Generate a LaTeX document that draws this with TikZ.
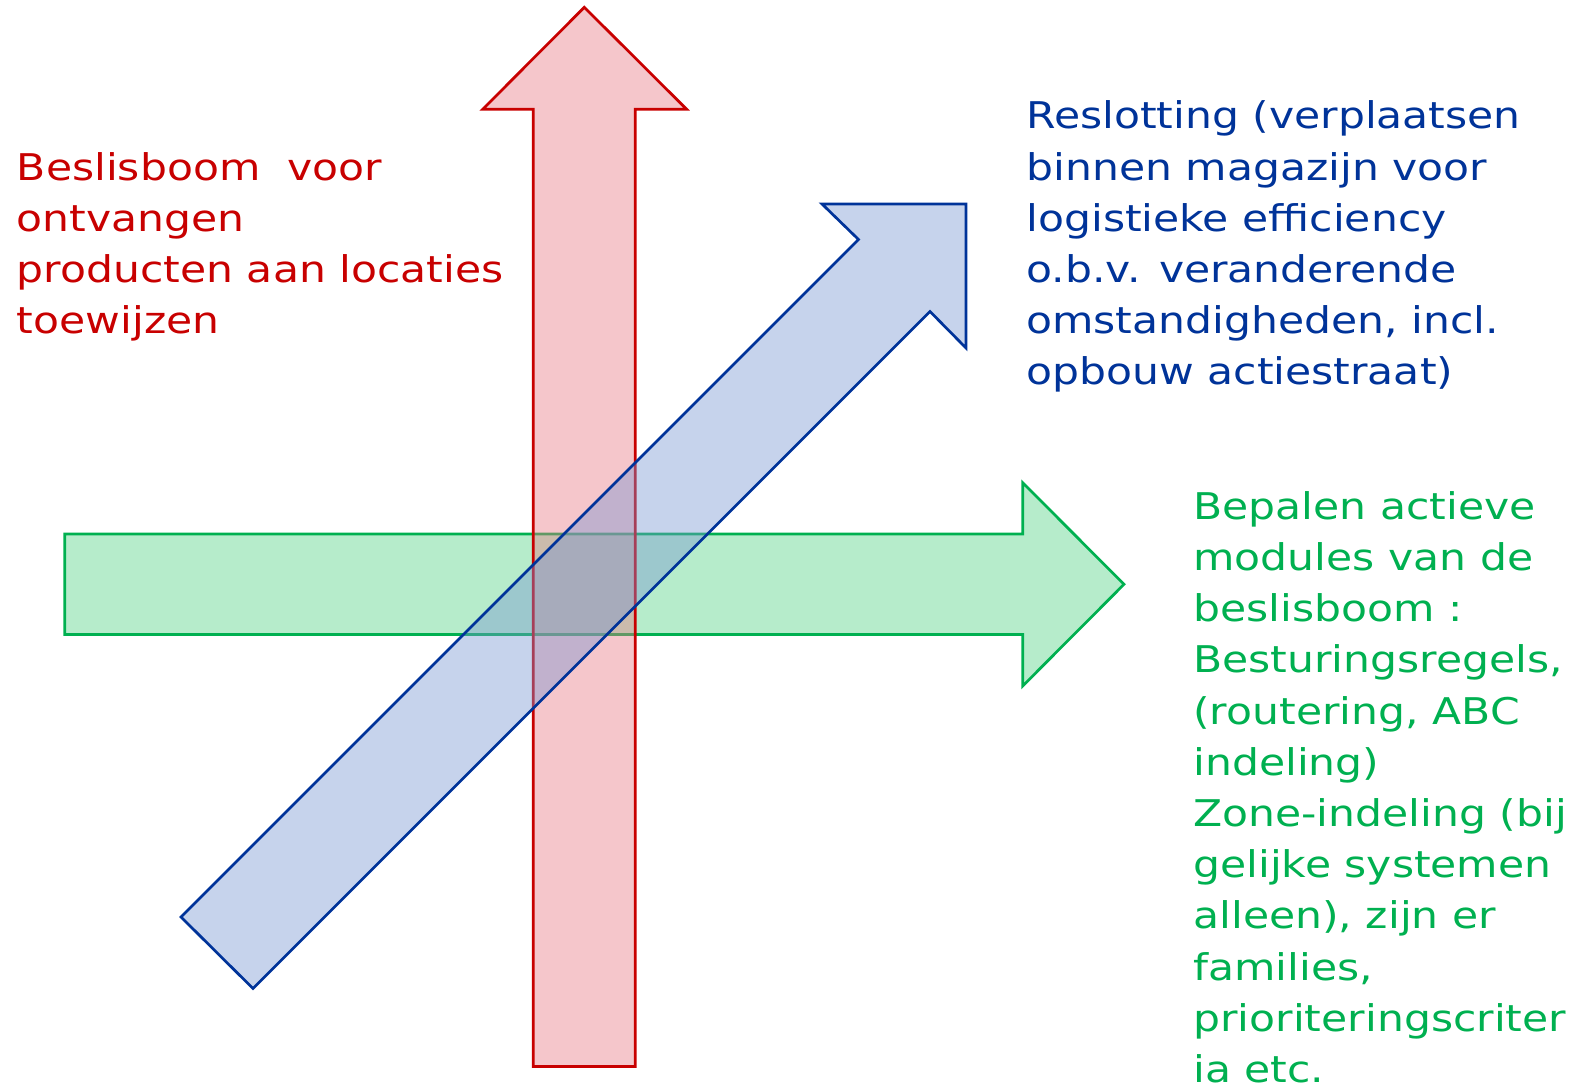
\documentclass[tikz,border=0pt]{standalone}
\usepackage{fontspec}
\setmainfont{DejaVu Sans}[FakeStretch=1.155]
\definecolor{redline}{RGB}{200,0,0}
\definecolor{blueline}{RGB}{0,51,153}
\definecolor{greenline}{RGB}{0,176,80}
\definecolor{redfill}{RGB}{232,120,130}
\definecolor{bluefill}{RGB}{120,150,210}
\definecolor{greenfill}{RGB}{80,210,130}
\begin{document}
\begin{tikzpicture}[x=0.5pt,y=-0.5pt,
  arrowshape/.style={line width=1.35pt, line join=miter, fill opacity=0.42},
  label/.style={anchor=north west, inner sep=0pt, align=left,
    font=\fontsize{18.4}{25.6}\selectfont}]
\useasboundingbox (0,0) rectangle (1585,1085);
% green arrow
\filldraw[arrowshape, draw=greenline, fill=greenfill]
  (64.7,534) -- (1022.7,534) -- (1022.7,482.7) -- (1124,584.3)
  -- (1022.7,686) -- (1022.7,634.5) -- (64.7,634.5) -- cycle;
% red arrow
\filldraw[arrowshape, draw=redline, fill=redfill]
  (584.3,7.3) -- (686.7,109.3) -- (635.3,109.3) -- (635.3,1066.5)
  -- (533.3,1066.5) -- (533.3,109.3) -- (482.7,109.3) -- cycle;
% blue arrow
\filldraw[arrowshape, draw=blueline, fill=bluefill]
  (181,917) -- (253,988.5) -- (930,311.5) -- (966,348) -- (966,204)
  -- (822,204) -- (858.5,239.5) -- cycle;
% texts
\node[label, text=redline] (redtext) at (16.5,152)
  {Beslisboom\ \ voor\\ontvangen\\producten aan locaties\\toewijzen};
\node[label, text=blueline] (bluetext) at (1026,100.5)
  {Reslotting (verplaatsen\\binnen magazijn voor\\logistieke efficiency\\o.b.v. veranderende\\omstandigheden, incl.\\opbouw actiestraat)};
\node[label, text=greenline] (greentext) at (1193,491)
  {Bepalen actieve\\modules van de\\beslisboom :\\Besturingsregels,\\(routering, ABC\\indeling)\\Zone-indeling (bij\\gelijke systemen\\alleen), zijn er\\families,\\prioriteringscriter\\ia etc.};
\end{tikzpicture}
\end{document}
